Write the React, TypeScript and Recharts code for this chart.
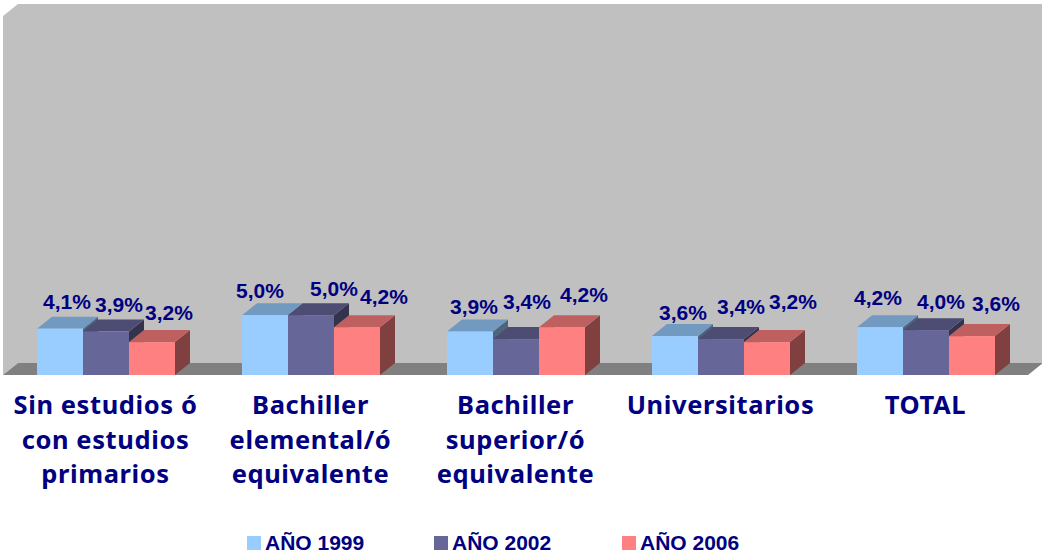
import { BarChart, Bar, XAxis, YAxis, LabelList, ReferenceArea } from 'recharts';

const categories = ['Sin estudios ó|con estudios|primarios', 'Bachiller|elemental/ó|equivalente', 'Bachiller|superior/ó|equivalente', 'Universitarios', 'TOTAL'];
const anio1999 = [4.1, 5.0, 3.9, 3.6, 4.2];
const anio2002 = [3.9, 5.0, 3.4, 3.4, 4.0];
const anio2006 = [3.2, 4.2, 4.2, 3.2, 3.6];

const data = categories.map((name, i) => ({ name, a1999: anio1999[i], a2002: anio2002[i], a2006: anio2006[i] }));

const NAVY = '#000080';
const DEPTH_X = 15;
const DEPTH_Y = 12;

// the labels were dragged by hand in the original, so each one has its own nudge
const series = [
  { key: 'a1999', label: 'AÑO 1999', legendX: 247, front: '#99CCFF', top: '#7299BF', side: '#4D6680', nudge: [[7, -20], [-5, -17], [4, -18], [8, -16], [-2, -22]] },
  { key: 'a2002', label: 'AÑO 2002', legendX: 434, front: '#666699', top: '#4D4D73', side: '#33334D', nudge: [[13, -20], [23, -19], [11, -30], [20, -25], [15, -21]] },
  { key: 'a2006', label: 'AÑO 2006', legendX: 622, front: '#FF8080', top: '#BF6060', side: '#804040', nudge: [[17, -22], [27, -23], [22, -25], [26, -33], [24, -25]] },
];

function Walls({ x, y, width, height }: any) {
  const b = y + height;
  const r = x + width;
  return (
    <g>
      <polygon points={`${x},${y} ${x + DEPTH_X},${y - DEPTH_Y} ${r + DEPTH_X},${y - DEPTH_Y} ${r + DEPTH_X},${b - DEPTH_Y} ${x + DEPTH_X},${b - DEPTH_Y} ${x},${b}`} fill="#C0C0C0" />
      <polygon points={`${x},${b} ${x + DEPTH_X},${b - DEPTH_Y} ${r + DEPTH_X},${b - DEPTH_Y} ${r},${b}`} fill="#808080" />
    </g>
  );
}

function Bar3D({ x, y, width, height, front, top, side }: any) {
  const r = x + width;
  const b = y + height;
  return (
    <g>
      <polygon points={`${r},${y} ${r + DEPTH_X},${y - DEPTH_Y} ${r + DEPTH_X},${b - DEPTH_Y} ${r},${b}`} fill={side} />
      <polygon points={`${x},${y} ${x + DEPTH_X},${y - DEPTH_Y} ${r + DEPTH_X},${y - DEPTH_Y} ${r},${y}`} fill={top} />
      <rect x={x} y={y} width={width} height={height} fill={front} />
    </g>
  );
}

function CategoryTick({ x, y, payload }: any) {
  const lines = String(payload.value).split('|');
  return (
    <text x={x} y={y} textAnchor="middle" fill={NAVY} fontFamily="'Noto Sans', sans-serif" fontWeight={700} fontSize={25.5} letterSpacing={0.6}>
      {lines.map((line, i) => (
        <tspan key={line} x={x} y={y + 31 + i * 34.5}>{line}</tspan>
      ))}
    </text>
  );
}

function valueLabel(nudge: number[][]) {
  return ({ x, y, width, value, index }: any) => (
    <text x={x + width / 2 + nudge[index][0]} y={y + nudge[index][1]} textAnchor="middle" fill={NAVY} fontFamily="'Liberation Sans', Arial, sans-serif" fontWeight={700} fontSize={21}>
      {Number(value).toFixed(1).replace('.', ',') + '%'}
    </text>
  );
}

export default function App() {
  return (
    <div style={{ position: 'absolute', left: 0, top: 0, width: 1042, height: 554, background: '#fff', overflow: 'hidden' }}>
      <BarChart width={1042} height={554} data={data} margin={{ top: 16, right: 14, bottom: 0, left: 3 }} barCategoryGap={34} barGap={0}>
        <XAxis dataKey="name" axisLine={false} tickLine={false} tick={<CategoryTick />} height={179} interval={0} />
        <YAxis hide domain={[1, 25]} />
        <ReferenceArea y1={1} y2={25} shape={<Walls />} />
        {series.map(s => (
          <Bar key={s.key} dataKey={s.key} isAnimationActive={false} shape={<Bar3D front={s.front} top={s.top} side={s.side} />}>
            <LabelList dataKey={s.key} content={valueLabel(s.nudge)} />
          </Bar>
        ))}
      </BarChart>
      {series.map(s => (
        <div key={s.key} style={{ position: 'absolute', left: s.legendX, top: 530, height: 26, display: 'flex', alignItems: 'center', fontFamily: "'Liberation Sans', Arial, sans-serif", fontWeight: 700, fontSize: 21, color: NAVY, whiteSpace: 'nowrap' }}>
          <span style={{ display: 'inline-block', width: 14, height: 14, background: s.front, marginRight: 4 }} />
          {s.label}
        </div>
      ))}
    </div>
  );
}
